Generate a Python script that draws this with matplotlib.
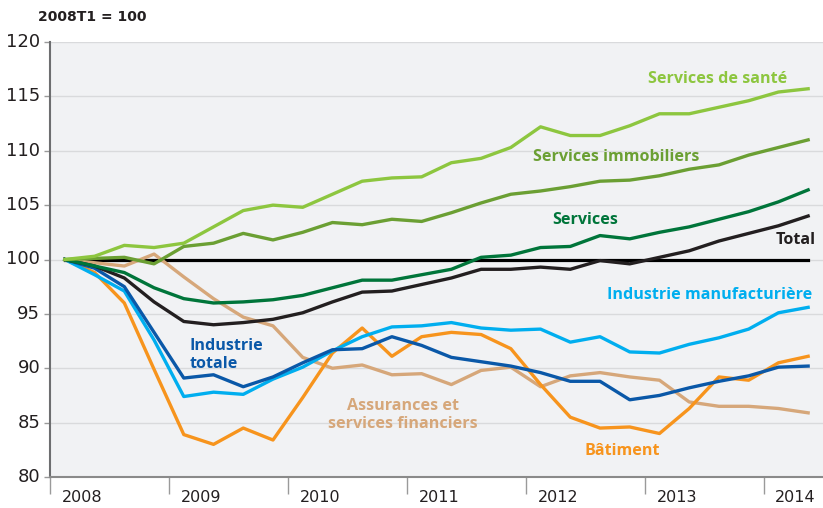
import numpy as np
import matplotlib.pyplot as plt

# quarterly index, 2008T1 = 100 (2008T1 .. 2014T2)
years = [2008, 2009, 2010, 2011, 2012, 2013, 2014]

sante = [100, 100.3, 101.3, 101.1, 101.5, 103.0, 104.5, 105.0, 104.8, 106.0,
         107.2, 107.5, 107.6, 108.9, 109.3, 110.3, 112.2, 111.4, 111.4, 112.3,
         113.4, 113.4, 114.0, 114.6, 115.4, 115.7]
immobiliers = [100, 100.1, 100.2, 99.6, 101.2, 101.5, 102.4, 101.8, 102.5, 103.4,
               103.2, 103.7, 103.5, 104.3, 105.2, 106.0, 106.3, 106.7, 107.2, 107.3,
               107.7, 108.3, 108.7, 109.6, 110.3, 111.0]
services = [100, 99.4, 98.8, 97.4, 96.4, 96.0, 96.1, 96.3, 96.7, 97.4,
            98.1, 98.1, 98.6, 99.1, 100.2, 100.4, 101.1, 101.2, 102.2, 101.9,
            102.5, 103.0, 103.7, 104.4, 105.3, 106.4]
total = [100, 99.4, 98.3, 96.1, 94.3, 94.0, 94.2, 94.5, 95.1, 96.1,
         97.0, 97.1, 97.7, 98.3, 99.1, 99.1, 99.3, 99.1, 99.9, 99.6,
         100.2, 100.8, 101.7, 102.4, 103.1, 104.0]
manuf = [100, 98.6, 97.1, 92.6, 87.4, 87.8, 87.6, 89.0, 90.1, 91.6,
         92.9, 93.8, 93.9, 94.2, 93.7, 93.5, 93.6, 92.4, 92.9, 91.5,
         91.4, 92.2, 92.8, 93.6, 95.1, 95.6]
industrie = [100, 99.2, 97.5, 93.3, 89.1, 89.4, 88.3, 89.2, 90.5, 91.7,
             91.8, 92.9, 92.1, 91.0, 90.6, 90.2, 89.6, 88.8, 88.8, 87.1,
             87.5, 88.2, 88.8, 89.3, 90.1, 90.2]
batiment = [100, 98.8, 96.0, 89.9, 83.9, 83.0, 84.5, 83.4, 87.3, 91.4,
            93.7, 91.1, 92.9, 93.3, 93.1, 91.8, 88.5, 85.5, 84.5, 84.6,
            84.0, 86.3, 89.2, 88.9, 90.5, 91.1]
assurances = [100, 99.7, 99.4, 100.5, 98.4, 96.4, 94.7, 93.9, 91.0, 90.0,
              90.3, 89.4, 89.5, 88.5, 89.8, 90.1, 88.3, 89.3, 89.6, 89.2,
              88.9, 86.9, 86.5, 86.5, 86.3, 85.9]

x = np.arange(len(total)) + 0.5

fig = plt.figure(figsize=(8.23, 5.08), dpi=100)
ax = fig.add_axes([50 / 823, 31 / 508, 773 / 823, 435 / 508])
ax.set_facecolor("#f1f2f4")

ax.set_xlim(0, 26)
ax.set_ylim(80, 120)
ax.set_yticks(range(80, 121, 5))
ax.grid(axis="y", color="#d9dadc", linewidth=1)
ax.set_axisbelow(True)

ax.plot([x[0], x[-1]], [100, 100], color="black", linewidth=2.3, zorder=2)

lw = 2.4
ax.plot(x, assurances, color="#d6a77a", linewidth=lw, zorder=3)
ax.plot(x, batiment, color="#f7941d", linewidth=lw, zorder=3)
ax.plot(x, manuf, color="#00aeef", linewidth=lw, zorder=3)
ax.plot(x, industrie, color="#0a58a8", linewidth=lw, zorder=3)
ax.plot(x, total, color="#231f20", linewidth=lw, zorder=3)
ax.plot(x, services, color="#00753a", linewidth=lw, zorder=3)
ax.plot(x, immobiliers, color="#6b9f33", linewidth=lw, zorder=3)
ax.plot(x, sante, color="#8dc63f", linewidth=lw, zorder=3)

lab = dict(fontsize=11.6, fontweight="bold", family="Open Sans")
ax.text(20.1, 116.6, "Services de santé", color="#8dc63f", va="center", **lab)
ax.text(16.25, 109.4, "Services immobiliers", color="#6b9f33", va="center", **lab)
ax.text(16.9, 103.6, "Services", color="#00753a", va="center", **lab)
ax.text(24.4, 101.75, "Total", color="#231f20", va="center", **lab)
ax.text(18.75, 96.7, "Industrie manufacturière", color="#00aeef", va="center", **lab)
ax.text(4.7, 91.2, "Industrie\ntotale", color="#0a58a8", va="center",
        linespacing=1.15, **lab)
ax.text(11.87, 85.7, "Assurances et\nservices financiers", color="#d6a77a",
        va="center", ha="center", linespacing=1.15, **lab)
ax.text(17.98, 82.4, "Bâtiment", color="#f7941d", va="center", **lab)

# year ticks at boundaries, labels shifted into the year
ax.set_xticks([4 * i for i in range(len(years))])
ax.set_xticklabels([])
ax.tick_params(axis="x", length=12, width=1, color="#9a9a9a")
for i, yr in enumerate(years):
    ax.text(4 * i + 1.08, -0.03, str(yr), transform=ax.get_xaxis_transform(),
            ha="center", va="top", fontsize=11.5, color="#231f20")

ax.tick_params(axis="y", length=4, width=1, color="#9a9a9a", labelsize=13,
               labelcolor="#231f20", pad=3)
for t in ax.get_yticklabels():
    t.set_verticalalignment("center")

for s in ["top", "right"]:
    ax.spines[s].set_visible(False)
ax.spines["left"].set_color("#6d6e70")
ax.spines["left"].set_linewidth(1.5)
ax.spines["bottom"].set_color("#8a8a8a")
ax.spines["bottom"].set_linewidth(1.5)

fig.text(38 / 823, 1 - 17 / 508, "2008T1 = 100", fontsize=10, fontweight="bold",
         va="center", ha="left", color="#231f20")

fig.savefig("out.png", dpi=100)
